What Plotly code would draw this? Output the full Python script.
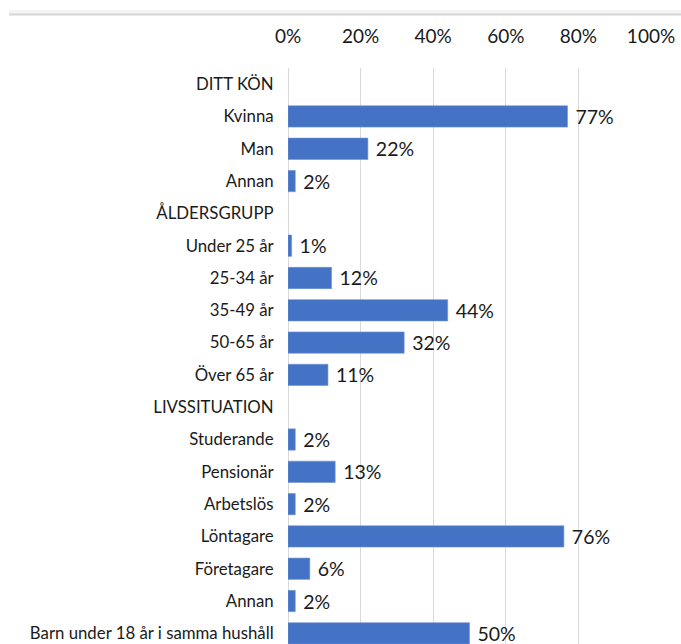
import plotly.graph_objects as go

categories = ["DITT KÖN", "Kvinna", "Man", "Annan",
              "ÅLDERSGRUPP", "Under 25 år", "25-34 år", "35-49 år", "50-65 år", "Över 65 år",
              "LIVSSITUATION", "Studerande", "Pensionär", "Arbetslös", "Löntagare", "Företagare", "Annan",
              "Barn under 18 år i samma hushåll"]
values = [None, 77, 22, 2,
          None, 1, 12, 44, 32, 11,
          None, 2, 13, 2, 76, 6, 2,
          50]
x_ticks = [0, 20, 40, 60, 80, 100]
x_tick_labels = ["0%", "20%", "40%", "60%", "80%", "100%"]

positions = list(range(len(categories)))
texts = ["" if v is None else f"\u00a0{v}%" for v in values]

FONT = "Lato, 'Open Sans', sans-serif"
TXT = "#1a1a1a"

L, R, T, B = 288, 30, 68, 0
W, H = 681, 644
PW, PH = W - L - R, H - T - B


def px_x(px):
    return (px - L) / PW


def px_y(py):
    return 1 - (py - T) / PH


fig = go.Figure()
fig.add_trace(go.Bar(
    x=values, y=positions, orientation="h",
    marker=dict(color="#4472C4", line=dict(color="#6f93d4", width=0.6)),
    width=0.66,
    text=texts, textposition="outside", cliponaxis=False, constraintext="none",
    textfont=dict(family=FONT, size=19.5, color=TXT),
    hoverinfo="skip",
))

fig.update_layout(
    width=W, height=H,
    margin=dict(l=L, r=R, t=T, b=B, autoexpand=False),
    paper_bgcolor="white", plot_bgcolor="white",
    showlegend=False,
    xaxis=dict(
        side="top", range=[0, 100], tickvals=x_ticks, ticktext=x_tick_labels,
        showgrid=True, gridcolor="#d9d9d9", gridwidth=1,
        zeroline=True, zerolinecolor="#d9d9d9", zerolinewidth=1,
        showline=False, ticks="outside", ticklen=16, tickcolor="rgba(0,0,0,0)",
        tickfont=dict(family=FONT, size=19, color=TXT), fixedrange=True,
    ),
    yaxis=dict(
        range=[17.33, -0.5], tickvals=positions, ticktext=categories,
        showgrid=False, zeroline=False, showline=False,
        ticks="outside", ticklen=10, tickcolor="rgba(0,0,0,0)",
        tickfont=dict(family=FONT, size=16.8, color=TXT), automargin=False,
        fixedrange=True,
    ),
    shapes=[
        dict(type="rect", xref="paper", yref="paper",
             x0=px_x(9), x1=px_x(W + 5), y0=px_y(14), y1=px_y(10),
             fillcolor="#f4f4f4", line=dict(width=0), layer="below"),
        dict(type="line", xref="paper", yref="paper",
             x0=px_x(9), x1=px_x(W + 5), y0=px_y(14.5), y1=px_y(14.5),
             line=dict(color="#d6d6d6", width=2)),
    ],
    bargap=0.3,
)

fig.write_html("out.html", config={"displayModeBar": False},
               post_script="document.body.style.margin='0';")
